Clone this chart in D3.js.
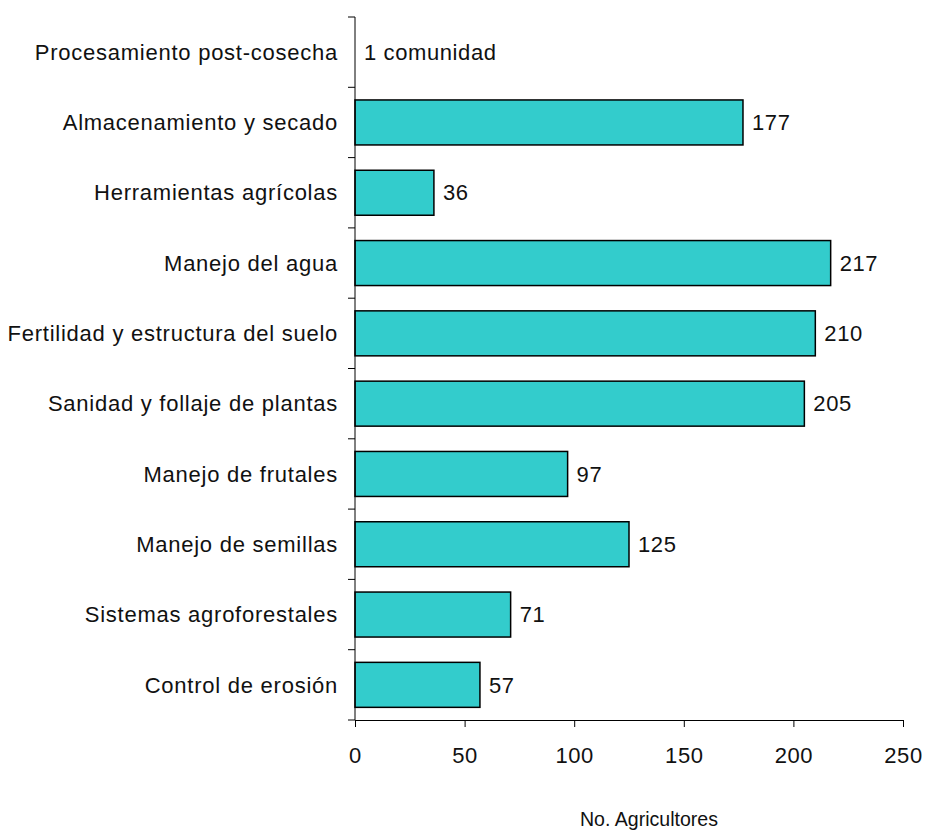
<!DOCTYPE html>
<html>
<head>
<meta charset="utf-8">
<script src="https://cdn.jsdelivr.net/npm/d3@7"></script>
<style>
  body { margin: 0; background: #fff; }
  svg text { font-family: "Liberation Sans", Arial, sans-serif; fill: #111; }
</style>
</head>
<body>
<div id="chart"></div>
<script>
// categories top to bottom
const categories = [
  "Procesamiento post-cosecha",
  "Almacenamiento y secado",
  "Herramientas agrícolas",
  "Manejo del agua",
  "Fertilidad y estructura del suelo",
  "Sanidad y follaje de plantas",
  "Manejo de frutales",
  "Manejo de semillas",
  "Sistemas agroforestales",
  "Control de erosión"
];
const values = [0, 177, 36, 217, 210, 205, 97, 125, 71, 57];
const valueLabels = ["1 comunidad", "177", "36", "217", "210", "205", "97", "125", "71", "57"];
const xTicks = [0, 50, 100, 150, 200, 250];
const xTitle = "No. Agricultores";

let w = 926, h = 830;
var svg = d3.select("#chart")
  .append("svg")
  .attr("width", w)
  .attr("height", h);

var x = d3.scaleLinear().domain([0, 250]).range([355, 903]);
var y = d3.scaleBand().domain(categories).range([17, 720]).paddingInner(0.36).paddingOuter(0.18);

// bars
svg.selectAll("rect.bar")
  .data(categories)
  .enter().append("rect")
  .attr("class", "bar")
  .attr("x", x(0))
  .attr("y", d => y(d))
  .attr("width", (d, i) => x(values[i]) - x(0))
  .attr("height", y.bandwidth())
  .attr("fill", (d, i) => values[i] > 0 ? "#33CCCC" : "none")
  .attr("stroke", (d, i) => values[i] > 0 ? "#000" : "none")
  .attr("stroke-width", 1.5);

// value labels
svg.selectAll("text.val")
  .data(categories)
  .enter().append("text")
  .attr("class", "val")
  .attr("x", (d, i) => x(values[i]) + 9)
  .attr("y", d => y(d) + y.bandwidth() / 2)
  .attr("dy", "0.35em")
  .style("font-size", "22px")
  .style("letter-spacing", "0.6px")
  .text((d, i) => valueLabels[i]);

// y axis with ticks at band boundaries
var yEdges = d3.range(categories.length + 1).map(i => 17 + i * (720 - 17) / categories.length);
svg.append("line")
  .attr("x1", x(0)).attr("x2", x(0))
  .attr("y1", 17).attr("y2", 720)
  .attr("stroke", "#000").attr("stroke-width", 1);
svg.selectAll("line.ytick")
  .data(yEdges)
  .enter().append("line")
  .attr("class", "ytick")
  .attr("x1", x(0) - 7).attr("x2", x(0))
  .attr("y1", d => d).attr("y2", d => d)
  .attr("stroke", "#000").attr("stroke-width", 1);
svg.selectAll("text.cat")
  .data(categories)
  .enter().append("text")
  .attr("class", "cat")
  .attr("x", 338)
  .attr("y", d => y(d) + y.bandwidth() / 2)
  .attr("dy", "0.35em")
  .attr("text-anchor", "end")
  .style("font-size", "22px")
  .style("letter-spacing", "0.75px")
  .text(d => d);

// x axis
var xAxis = d3.axisBottom(x).tickValues(xTicks).tickSize(7).tickPadding(20);
var gx = svg.append("g")
  .attr("transform", "translate(0,720)")
  .call(xAxis);
gx.select(".domain").attr("stroke", "#000");
gx.selectAll(".tick line").attr("stroke", "#000");
gx.selectAll(".tick text")
  .style("font-size", "22px")
  .style("letter-spacing", "0.6px")
  .style("font-family", "'Liberation Sans', Arial, sans-serif")
  .attr("fill", "#111");

svg.append("text")
  .attr("x", 649)
  .attr("y", 826)
  .attr("text-anchor", "middle")
  .style("font-size", "21px")
  .attr("textLength", 138)
  .attr("lengthAdjust", "spacingAndGlyphs")
  .text(xTitle);
</script>
</body>
</html>
